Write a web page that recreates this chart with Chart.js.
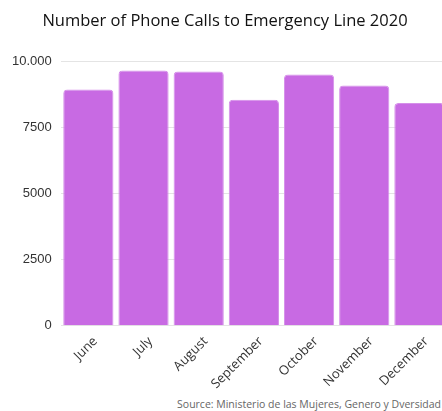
<!DOCTYPE html>
<html>
<head>
<meta charset="utf-8">
<script src="https://cdn.jsdelivr.net/npm/chart.js@4/dist/chart.umd.min.js"></script>
<style>
  html, body { margin: 0; padding: 0; background: #fff; overflow: hidden; }
  #wrap { position: relative; width: 447px; height: 411px; }
  #source {
    position: absolute; right: 6px; top: 397px;
    font: 10.5px "Open Sans", sans-serif; color: #666; white-space: nowrap;
  }
</style>
</head>
<body>
<div id="wrap">
  <canvas id="llamadas" width="447" height="396"></canvas>
  <div id="source">Source: Ministerio de las Mujeres, Genero y Dversidad</div>
</div>
<script>
'use strict'

const meses = ['June', 'July', 'August', 'September', 'October', 'November', 'December'];
const llamadas = [8950, 9670, 9630, 8560, 9520, 9100, 8440];
const marcasY = { 0: '0', 2500: '2500', 5000: '5000', 7500: '7500', 10000: '10.000' };

const divGrafico = document.querySelector('#llamadas');

const data = {
  labels: meses,
  datasets: [{
    label: 'Llamadas',
    data: llamadas,
    backgroundColor: '#c86ae3',
    borderColor: '#d58fe9',
    borderWidth: 1,
    borderRadius: { topLeft: 4, topRight: 4 },
    borderSkipped: 'bottom',
    barPercentage: 0.91,
    categoryPercentage: 1
  }]
};

const config = {
  type: 'bar',
  data,
  options: {
    responsive: false,
    animation: false,
    layout: { padding: { left: 3, right: 0, top: 0, bottom: 4 } },
    plugins: {
      legend: { display: false },
      tooltip: { enabled: false },
      title: {
        display: true,
        text: 'Number of Phone Calls to Emergency Line 2020',
        color: '#111',
        font: { family: 'Open Sans', size: 16.5, weight: 'normal' },
        padding: { top: 11, bottom: 31 }
      }
    },
    scales: {
      y: {
        min: 0,
        max: 10000,
        border: { display: false },
        grid: { color: '#e4e4e4', drawTicks: false },
        ticks: {
          stepSize: 2500,
          padding: 9,
          color: '#333',
          font: { family: 'Arial', size: 13 },
          callback: v => marcasY[v]
        }
      },
      x: {
        border: { display: false },
        grid: { display: false },
        ticks: {
          minRotation: 45,
          maxRotation: 45,
          padding: 0,
          labelOffset: 7,
          color: '#333',
          font: { family: 'Open Sans', size: 13 }
        }
      }
    }
  }
};

const GraficoLlamadas = new Chart(divGrafico, config);
</script>
</body>
</html>
